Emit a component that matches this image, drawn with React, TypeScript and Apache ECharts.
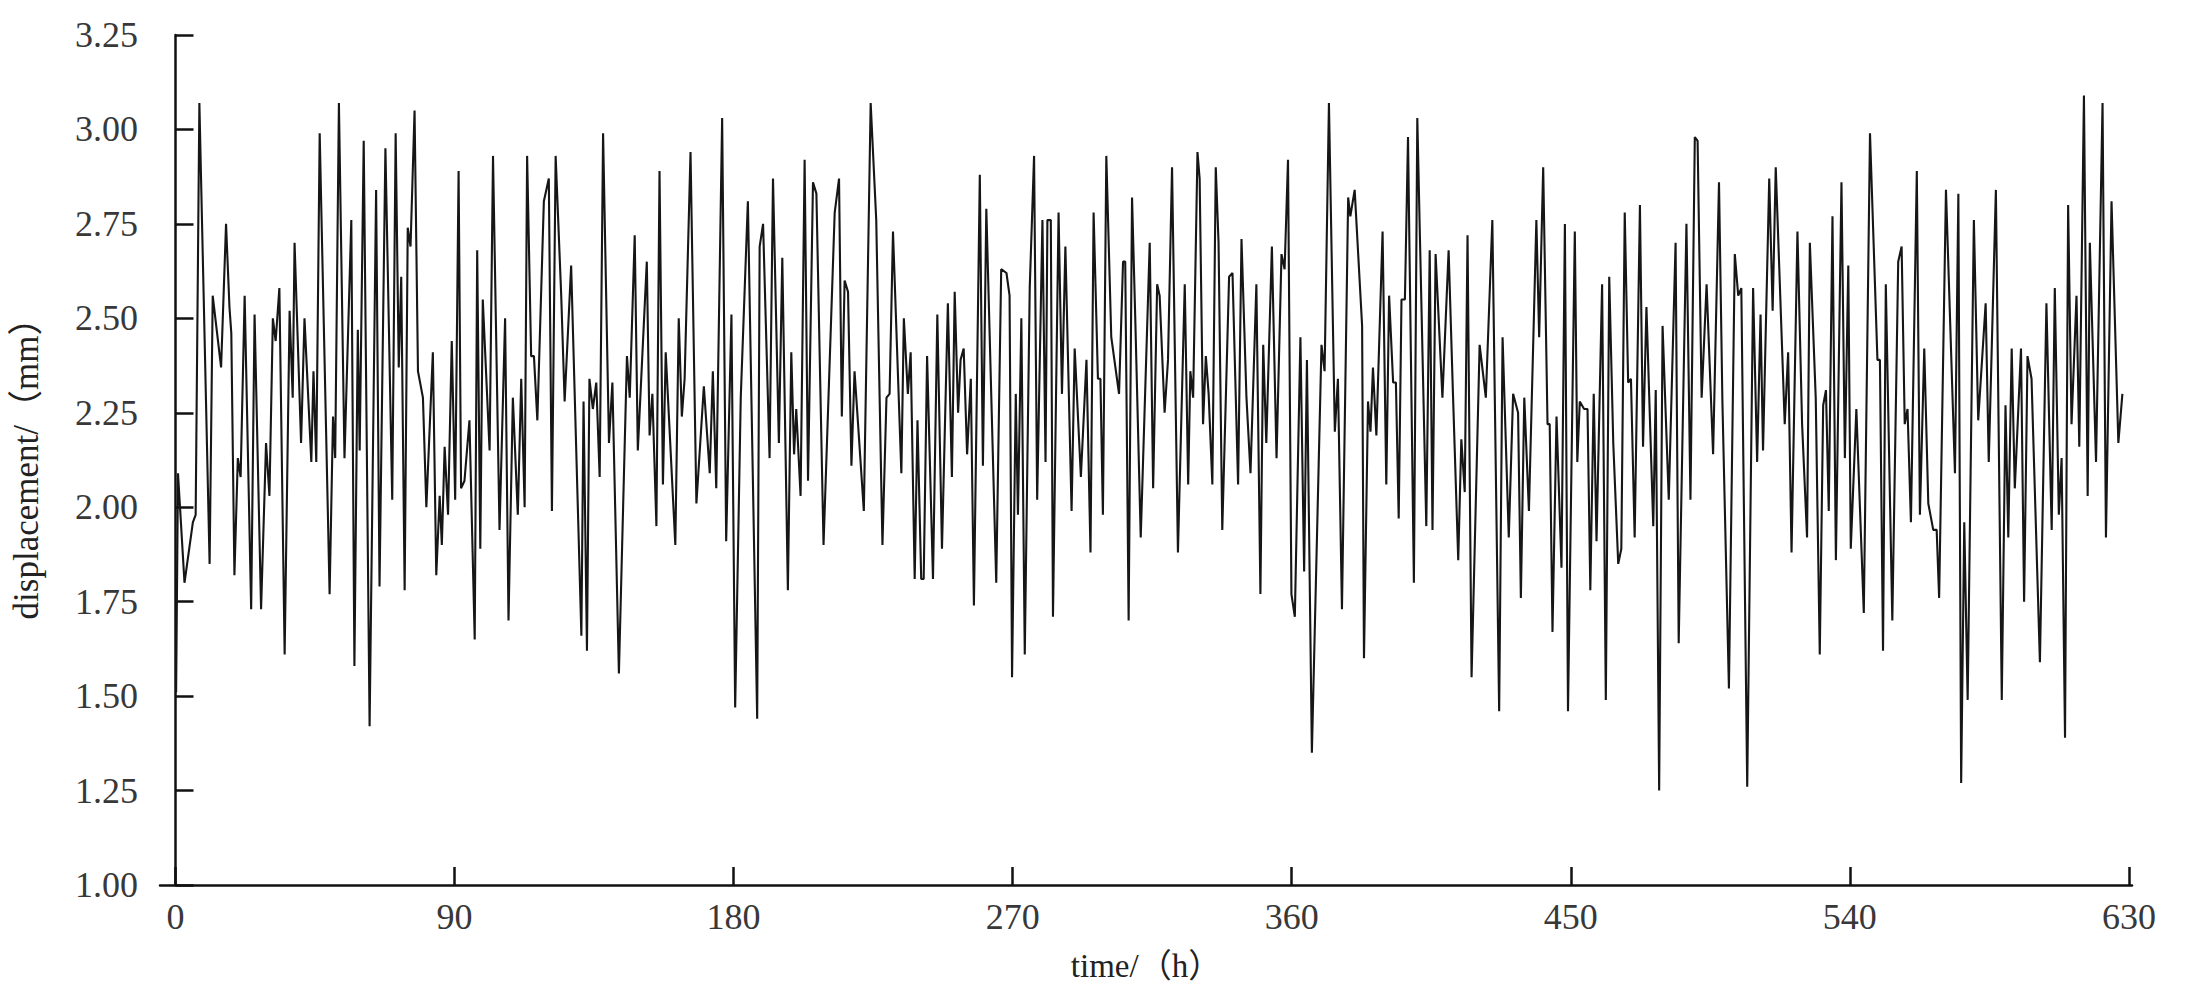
import React, { useEffect, useRef } from "react";
import * as echarts from "echarts";

const xTickValues = [0, 90, 180, 270, 360, 450, 540, 630];
const yMin = 1.0;
const yMax = 3.25;
const yStep = 0.25;

const hours = [
  0.2, 0.8, 2.9, 5.6, 6.5, 7.7, 11.0, 12.0, 14.7, 16.3, 17.4, 18.0, 19.0, 20.1, 21.0, 22.3, 24.4, 25.5, 27.6, 29.2,
  30.3, 31.4, 32.3, 33.5, 35.2, 36.8, 37.8, 38.4, 40.5, 41.6, 43.8, 44.5, 45.4, 46.5, 49.7, 50.8, 51.5, 52.7, 54.5, 56.7,
  57.7, 58.8, 59.4, 60.7, 62.6, 64.7, 65.8, 67.7, 69.9, 71.0, 72.0, 72.8, 73.9, 74.9, 75.8, 77.1, 78.2, 79.8, 80.9, 83.0,
  84.1, 85.2, 85.9, 86.8, 87.9, 89.1, 90.2, 91.3, 92.1, 93.2, 94.8, 96.5, 97.3, 98.3, 99.1, 101.3, 102.4, 104.5, 106.3, 107.4,
  108.8, 110.4, 111.5, 112.6, 113.4, 114.7, 115.6, 116.7, 118.8, 120.4, 121.4, 122.6, 124.4, 125.5, 127.6, 130.9, 131.6, 132.7, 133.5, 134.6,
  135.7, 136.8, 137.9, 139.8, 140.9, 143.0, 145.6, 146.5, 148.1, 149.1, 152.0, 152.9, 153.8, 155.1, 156.1, 157.2, 158.1, 161.2, 162.3, 163.3,
  164.2, 166.1, 168.0, 170.4, 172.3, 173.3, 174.4, 176.3, 177.6, 179.3, 180.5, 182.3, 184.6, 187.6, 188.4, 189.5, 191.6, 192.7, 194.6, 195.7,
  197.5, 198.6, 199.5, 200.2, 201.6, 202.9, 204.0, 205.6, 206.7, 209.0, 212.6, 214.0, 214.9, 215.8, 216.9, 218.0, 219.0, 222.0, 224.2, 226.0,
  228.0, 229.3, 230.3, 231.4, 234.1, 234.9, 236.2, 237.1, 238.4, 239.3, 240.5, 241.3, 242.4, 244.3, 245.7, 247.2, 249.1, 250.4, 251.3, 252.4,
  253.2, 254.2, 255.3, 256.5, 257.5, 259.4, 260.4, 261.5, 264.7, 266.3, 268.0, 269.0, 269.8, 271.0, 271.7, 272.8, 273.9, 275.5, 276.9, 277.9,
  279.6, 280.6, 281.2, 282.3, 283.0, 284.8, 285.9, 287.0, 289.0, 290.0, 292.0, 293.8, 295.1, 296.1, 297.5, 298.3, 299.1, 300.2, 301.8, 304.3,
  305.6, 306.3, 307.4, 308.5, 309.6, 311.3, 314.2, 315.3, 316.6, 317.4, 319.0, 320.1, 321.4, 323.3, 325.5, 326.6, 327.3, 328.2, 329.6, 330.3,
  331.4, 332.3, 333.2, 334.4, 335.5, 336.4, 337.6, 339.8, 340.9, 342.7, 343.8, 345.4, 346.7, 348.6, 349.9, 350.8, 351.8, 353.6, 355.1, 356.7,
  357.7, 358.8, 359.9, 361.0, 362.8, 364.0, 364.9, 366.5, 369.6, 370.6, 372.0, 373.9, 374.9, 376.2, 378.2, 378.9, 380.3, 382.7, 383.3, 384.6,
  385.4, 386.2, 387.3, 389.3, 390.5, 391.4, 392.7, 393.6, 394.5, 395.4, 396.5, 397.5, 399.4, 400.5, 403.4, 404.5, 405.4, 406.4, 408.6, 410.6,
  412.0, 413.7, 414.7, 415.8, 416.7, 418.0, 420.6, 422.6, 424.7, 426.9, 428.0, 430.0, 431.4, 433.0, 433.9, 435.0, 436.5, 438.9, 439.8, 441.1,
  442.5, 443.2, 444.1, 445.4, 447.0, 448.1, 449.1, 451.3, 452.1, 452.9, 454.3, 455.4, 456.3, 457.4, 458.3, 460.1, 461.3, 462.4, 463.7, 465.3,
  466.3, 467.4, 468.5, 469.4, 470.6, 472.3, 473.3, 474.4, 476.6, 477.4, 478.5, 479.6, 481.6, 483.8, 484.8, 487.3, 488.6, 490.0, 490.9, 492.2,
  493.8, 495.9, 497.8, 498.9, 501.0, 502.9, 504.0, 505.0, 506.9, 508.8, 510.1, 511.2, 512.0, 514.0, 515.1, 516.1, 519.0, 520.1, 521.2, 523.1,
  524.6, 526.2, 527.1, 529.0, 530.3, 531.4, 532.3, 533.2, 534.4, 535.5, 537.3, 538.4, 539.5, 540.3, 542.1, 544.5, 546.5, 548.9, 549.7, 550.7,
  551.6, 553.7, 555.6, 556.7, 557.7, 558.6, 559.7, 561.6, 562.6, 564.0, 565.3, 566.9, 568.0, 568.8, 571.0, 573.9, 575.0, 575.9, 576.9, 578.0,
  580.0, 581.4, 583.8, 584.8, 587.1, 589.0, 590.2, 591.1, 592.2, 593.2, 595.2, 596.2, 597.3, 598.6, 601.3, 603.4, 605.1, 606.1, 607.4, 608.3,
  609.4, 610.4, 611.5, 613.1, 614.0, 615.5, 616.7, 617.4, 619.4, 621.5, 622.6, 624.4, 626.6, 627.9,
];

const displacement = [
  1.51, 2.09, 1.80, 1.96, 1.98, 3.07, 1.85, 2.56, 2.37, 2.75, 2.53, 2.46, 1.82, 2.13, 2.08, 2.56, 1.73, 2.51, 1.73, 2.17,
  2.03, 2.50, 2.44, 2.58, 1.61, 2.52, 2.29, 2.70, 2.17, 2.50, 2.12, 2.36, 2.12, 2.99, 1.77, 2.24, 2.13, 3.07, 2.13, 2.76,
  1.58, 2.47, 2.15, 2.97, 1.42, 2.84, 1.79, 2.95, 2.02, 2.99, 2.37, 2.61, 1.78, 2.74, 2.69, 3.05, 2.36, 2.29, 2.00, 2.41,
  1.82, 2.03, 1.90, 2.16, 1.98, 2.44, 2.02, 2.89, 2.05, 2.07, 2.23, 1.65, 2.68, 1.89, 2.55, 2.15, 2.93, 1.94, 2.50, 1.70,
  2.29, 1.98, 2.34, 2.00, 2.93, 2.40, 2.40, 2.23, 2.81, 2.87, 1.99, 2.93, 2.56, 2.28, 2.64, 1.66, 2.28, 1.62, 2.34, 2.26,
  2.33, 2.08, 2.99, 2.17, 2.33, 1.56, 2.40, 2.29, 2.72, 2.15, 2.65, 2.19, 2.30, 1.95, 2.89, 2.06, 2.41, 1.90, 2.50, 2.24,
  2.34, 2.94, 2.01, 2.32, 2.09, 2.36, 2.05, 3.03, 1.91, 2.51, 1.47, 2.29, 2.81, 1.44, 2.69, 2.75, 2.13, 2.87, 2.17, 2.66,
  1.78, 2.41, 2.14, 2.26, 2.03, 2.92, 2.07, 2.86, 2.83, 1.90, 2.78, 2.87, 2.24, 2.60, 2.57, 2.11, 2.36, 1.99, 3.07, 2.76,
  1.90, 2.29, 2.30, 2.73, 2.09, 2.50, 2.30, 2.41, 1.81, 2.23, 1.81, 1.81, 2.40, 1.81, 2.51, 1.89, 2.54, 2.08, 2.57, 2.25,
  2.39, 2.42, 2.14, 2.34, 1.74, 2.88, 2.11, 2.79, 1.80, 2.63, 2.62, 2.56, 1.55, 2.30, 1.98, 2.50, 1.61, 2.58, 2.93, 2.02,
  2.76, 2.12, 2.76, 2.76, 1.71, 2.78, 2.30, 2.69, 1.99, 2.42, 2.08, 2.39, 1.88, 2.78, 2.34, 2.34, 1.98, 2.93, 2.45, 2.30,
  2.65, 2.65, 1.70, 2.82, 2.48, 1.92, 2.70, 2.05, 2.59, 2.56, 2.25, 2.39, 2.90, 1.88, 2.59, 2.06, 2.36, 2.29, 2.94, 2.87,
  2.22, 2.40, 2.30, 2.06, 2.90, 2.70, 1.94, 2.61, 2.62, 2.06, 2.71, 2.29, 2.09, 2.59, 1.77, 2.43, 2.17, 2.69, 2.13, 2.67,
  2.63, 2.92, 1.77, 1.71, 2.45, 1.83, 2.39, 1.35, 2.43, 2.36, 3.07, 2.20, 2.34, 1.73, 2.82, 2.77, 2.84, 2.48, 1.60, 2.28,
  2.20, 2.37, 2.19, 2.73, 2.06, 2.56, 2.33, 2.33, 1.97, 2.55, 2.55, 2.98, 1.80, 3.03, 1.95, 2.68, 1.94, 2.67, 2.29, 2.68,
  2.30, 1.86, 2.18, 2.04, 2.72, 1.55, 2.43, 2.29, 2.76, 1.46, 2.45, 1.92, 2.30, 2.25, 1.76, 2.29, 1.99, 2.76, 2.45, 2.90,
  2.22, 2.22, 1.67, 2.24, 1.84, 2.75, 1.46, 2.73, 2.12, 2.28, 2.26, 2.26, 1.78, 2.30, 1.91, 2.59, 1.49, 2.61, 2.17, 1.85,
  1.89, 2.78, 2.33, 2.34, 1.92, 2.80, 2.16, 2.53, 1.95, 2.31, 1.25, 2.48, 2.02, 2.70, 1.64, 2.75, 2.02, 2.98, 2.97, 2.29,
  2.59, 2.14, 2.86, 2.28, 1.52, 2.67, 2.56, 2.58, 1.26, 2.58, 2.12, 2.51, 2.15, 2.87, 2.52, 2.90, 2.22, 2.41, 1.88, 2.73,
  2.22, 1.92, 2.70, 2.29, 1.61, 2.27, 2.31, 1.99, 2.77, 1.86, 2.86, 2.13, 2.64, 1.89, 2.26, 1.72, 2.99, 2.39, 2.39, 1.62,
  2.59, 1.70, 2.65, 2.69, 2.22, 2.26, 1.96, 2.89, 1.98, 2.42, 2.01, 1.94, 1.94, 1.76, 2.84, 2.09, 2.83, 1.27, 1.96, 1.49,
  2.76, 2.23, 2.54, 2.12, 2.84, 1.49, 2.27, 1.92, 2.42, 2.05, 2.42, 1.75, 2.40, 2.34, 1.59, 2.54, 1.94, 2.58, 1.98, 2.13,
  1.39, 2.80, 2.22, 2.56, 2.16, 3.09, 2.03, 2.70, 2.12, 3.07, 1.92, 2.81, 2.17, 2.30,
];

const xName = "time/（h）";
const yName = "displacement/（mm）";

const FONT = "'Liberation Serif', 'Noto Sans CJK SC', serif";

export default function App() {
  const ref = useRef<HTMLDivElement>(null);

  useEffect(() => {
    document.body.style.margin = "0";
    if (!ref.current) return;
    const chart = echarts.init(ref.current, null, { renderer: "svg" });
    const data = hours.map((h, i) => [h, displacement[i]]);
    chart.setOption({
      animation: false,
      backgroundColor: "#ffffff",
      grid: { left: 160, right: 65, top: 35, bottom: 113 },
      xAxis: {
        type: "value",
        min: -5,
        max: 631,
        name: xName,
        nameLocation: "middle",
        nameGap: 64,
        nameTextStyle: { fontSize: 33, color: "#222", fontFamily: FONT },
        axisLine: { show: true, onZero: false, lineStyle: { color: "#111", width: 2.5 } },
        axisTick: {
          show: true,
          inside: true,
          length: 18,
          customValues: xTickValues,
          lineStyle: { color: "#111", width: 2.5 },
        },
        axisLabel: {
          customValues: xTickValues,
          fontSize: 36,
          color: "#383838",
          fontFamily: FONT,
          margin: 14,
        },
        splitLine: { show: false },
      },
      yAxis: {
        type: "value",
        min: yMin,
        max: yMax,
        interval: yStep,
        name: yName,
        nameLocation: "middle",
        nameRotate: 90,
        nameGap: 116,
        nameTextStyle: { fontSize: 35, color: "#222", fontFamily: FONT },
        axisLine: { show: true, lineStyle: { color: "#111", width: 2.5 } },
        axisTick: { show: true, inside: true, length: 18, lineStyle: { color: "#111", width: 2.5 } },
        axisLabel: {
          fontSize: 36,
          color: "#383838",
          fontFamily: FONT,
          margin: 22,
          formatter: (v: number) => v.toFixed(2),
        },
        splitLine: { show: false },
      },
      series: [
        {
          type: "line",
          data,
          symbol: "none",
          showSymbol: false,
          silent: true,
          lineStyle: { color: "#161616", width: 2.1 },
        },
      ],
    });
    return () => chart.dispose();
  }, []);

  return <div ref={ref} style={{ width: 2197, height: 998 }} />;
}
